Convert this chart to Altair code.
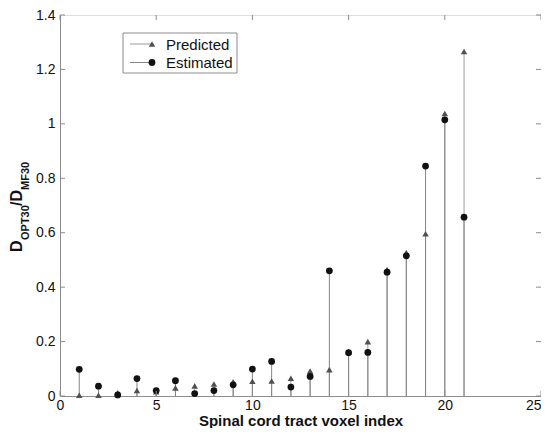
import altair as alt
import pandas as pd

# ---- data ----
voxel = list(range(1, 22))
predicted = [0.003, 0.003, 0.012, 0.020, 0.016, 0.030, 0.037, 0.044, 0.052, 0.054,
             0.055, 0.065, 0.092, 0.097, 0.163, 0.200, 0.465, 0.527, 0.596, 1.038, 1.266]
estimated = [0.098, 0.036, 0.004, 0.064, 0.020, 0.056, 0.009, 0.020, 0.041, 0.099,
             0.127, 0.033, 0.072, 0.460, 0.159, 0.160, 0.455, 0.515, 0.845, 1.015, 0.657]
x_ticks = [0, 5, 10, 15, 20, 25]
y_ticks = [0, 0.2, 0.4, 0.6, 0.8, 1.0, 1.2, 1.4]
series_names = ["Predicted", "Estimated"]

W, H = 481, 381
FONT = "Liberation Sans"
FRAME = "#8c8c8c"

df = pd.DataFrame({"voxel": voxel, "Predicted": predicted, "Estimated": estimated})

xs = alt.Scale(domain=[0, 25], nice=False, zero=False)
ys = alt.Scale(domain=[0, 1.4], nice=False, zero=False)

xaxis = alt.Axis(values=x_ticks, format="~g", grid=False, ticks=False, tickSize=0,
                 domainColor=FRAME, labelFont=FONT, labelFontSize=14, labelColor="#111",
                 labelPadding=2, labelFlush=False,
                 labelAlign=alt.condition("datum.value == 25", alt.value("right"), alt.value("center")),
                 title="Spinal cord tract voxel index", titleFont=FONT, titleFontSize=15,
                 titleFontWeight="bold", titleColor="#111",
                 titleBaseline="alphabetic", titleY=29)
yaxis = alt.Axis(values=y_ticks, format="~g", grid=False, ticks=False, tickSize=0,
                 domainColor=FRAME, labelFont=FONT, labelFontSize=14, labelColor="#111",
                 labelPadding=5, labelFlush=False, title=None)

X = alt.X("voxel:Q", scale=xs, axis=xaxis)
base = alt.Chart(df)

stem_pred = base.mark_rule(color="#9a9a9a", strokeWidth=1).encode(
    x=X, y=alt.Y("Predicted:Q", scale=ys, axis=yaxis), y2=alt.datum(0))
stem_est = base.mark_rule(color="#858585", strokeWidth=1).encode(
    x=X, y=alt.Y("Estimated:Q", scale=ys, axis=yaxis), y2=alt.datum(0))
tri = base.mark_point(shape="triangle-up", filled=True, color="#505050", size=42,
                      opacity=1).encode(x=X, y=alt.Y("Predicted:Q", scale=ys, axis=yaxis))
dots = base.mark_circle(color="#111111", size=46, opacity=1).encode(
    x=X, y=alt.Y("Estimated:Q", scale=ys, axis=yaxis))

# inward ticks (MATLAB style) on all four sides
tx = pd.DataFrame({"t": x_ticks})
ty = pd.DataFrame({"t": y_ticks})
tlen_y = 5 * 1.4 / H
tlen_x = 5 * 25 / W
xt_bottom = alt.Chart(tx).mark_rule(color=FRAME).encode(
    x=alt.X("t:Q", scale=xs, axis=xaxis), y=alt.datum(0), y2=alt.datum(tlen_y))
xt_top = alt.Chart(tx).mark_rule(color=FRAME).encode(
    x=alt.X("t:Q", scale=xs, axis=xaxis), y=alt.datum(1.4), y2=alt.datum(1.4 - tlen_y))
yt_left = alt.Chart(ty).mark_rule(color=FRAME).encode(
    y=alt.Y("t:Q", scale=ys, axis=yaxis), x=alt.datum(0), x2=alt.datum(tlen_x))
yt_right = alt.Chart(ty).mark_rule(color=FRAME).encode(
    y=alt.Y("t:Q", scale=ys, axis=yaxis), x=alt.datum(25), x2=alt.datum(25 - tlen_x))

# legend
one = pd.DataFrame({"k": [0]})
lg = alt.Chart(one)
leg_box = lg.mark_rect(fill="white", stroke=FRAME, strokeWidth=1).encode(
    x=alt.value(63), x2=alt.value(177), y=alt.value(18), y2=alt.value(58))
leg_l1 = lg.mark_rule(color="#9a9a9a").encode(x=alt.value(70), x2=alt.value(92), y=alt.value(29))
leg_l2 = lg.mark_rule(color="#858585").encode(x=alt.value(70), x2=alt.value(92), y=alt.value(47.5))
leg_m1 = lg.mark_point(shape="triangle-up", filled=True, color="#505050", size=42, opacity=1).encode(
    x=alt.value(92), y=alt.value(29))
leg_m2 = lg.mark_circle(color="#111111", size=46, opacity=1).encode(x=alt.value(92), y=alt.value(47.5))
leg_t1 = lg.mark_text(align="left", baseline="middle", font=FONT, fontSize=15, color="#111").encode(
    x=alt.value(106), y=alt.value(29.5), text=alt.value(series_names[0]))
leg_t2 = lg.mark_text(align="left", baseline="middle", font=FONT, fontSize=15, color="#111").encode(
    x=alt.value(106), y=alt.value(48), text=alt.value(series_names[1]))

# y-axis title with subscripts: D_OPT30 / D_MF30
def ytxt(s, x, y, size):
    return lg.mark_text(align="left", baseline="alphabetic", angle=270, font=FONT,
                        fontSize=size, fontWeight="bold", color="#111").encode(
        x=alt.value(x), y=alt.value(y), text=alt.value(s))

ylab = [ytxt("D", -38.5, 237, 16), ytxt("OPT30", -31, 225, 11),
        ytxt("/D", -38.5, 191, 16), ytxt("MF30", -31, 175, 11)]

chart = alt.layer(
    stem_pred, stem_est, tri, dots, xt_bottom, xt_top, yt_left, yt_right,
    leg_box, leg_l1, leg_l2, leg_m1, leg_m2, leg_t1, leg_t2, *ylab
).properties(
    width=W, height=H,
    autosize=alt.AutoSizeParams(type="none"),
    padding={"left": 52, "top": 7, "right": 0, "bottom": 32},
).configure_view(stroke=FRAME, strokeWidth=1).configure(background="white")

chart.save("out.html", embed_options={"renderer": "svg", "actions": False})
